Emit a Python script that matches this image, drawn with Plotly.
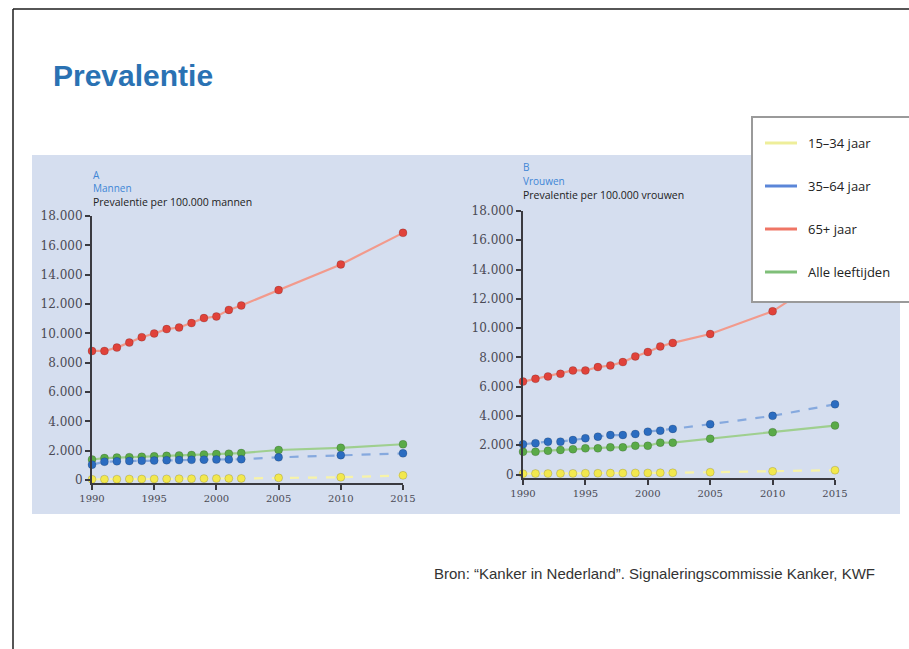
import plotly.graph_objects as go

W, H = 909, 649

years = [1990, 1991, 1992, 1993, 1994, 1995, 1996, 1997, 1998, 1999, 2000, 2001, 2002, 2005, 2010, 2015]

mannen_15_34 = [50, 60, 60, 70, 70, 80, 80, 90, 90, 100, 100, 110, 110, 150, 190, 320]
mannen_35_64 = [1050, 1250, 1280, 1300, 1320, 1330, 1350, 1360, 1380, 1390, 1400, 1410, 1420, 1550, 1700, 1820]
mannen_65 = [8800, 8800, 9030, 9370, 9740, 9990, 10290, 10400, 10700, 11040, 11150, 11600, 11900, 12950, 14700, 16850]
mannen_alle = [1400, 1500, 1530, 1560, 1590, 1620, 1650, 1680, 1710, 1740, 1770, 1800, 1840, 2050, 2200, 2440]

vrouwen_15_34 = [60, 70, 70, 80, 80, 90, 90, 100, 100, 110, 110, 120, 120, 160, 220, 300]
vrouwen_35_64 = [2070, 2140, 2250, 2250, 2360, 2480, 2590, 2700, 2700, 2770, 2930, 3000, 3120, 3440, 4010, 4800]
vrouwen_65 = [6350, 6540, 6700, 6880, 7110, 7110, 7340, 7450, 7680, 8070, 8370, 8750, 8990, 9600, 11150, 13900]
vrouwen_alle = [1560, 1560, 1630, 1680, 1730, 1790, 1790, 1860, 1860, 1970, 1970, 2180, 2180, 2450, 2890, 3350]

series_names = ["15–34 jaar", "35–64 jaar", "65+ jaar", "Alle leeftijden"]
y_ticks = list(range(0, 18001, 2000))
x_ticks = [1990, 1995, 2000, 2005, 2010, 2015]

line_colors = ["#f7f3a8", "#86a9de", "#f29a8c", "#9fcf8f"]
marker_colors = ["#f2e84e", "#2b6cc0", "#e0423a", "#5aaa48"]
dashes = ["dash", "dash", "solid", "solid"]
legend_line_colors = ["#eeee9a", "#5b86d8", "#ef7565", "#7fbf78"]


def px(x):
    return x / W


def py(y):
    return 1 - y / H


fig = go.Figure()

panels = [
    ("x", "y", [mannen_15_34, mannen_35_64, mannen_65, mannen_alle]),
    ("x2", "y2", [vrouwen_15_34, vrouwen_35_64, vrouwen_65, vrouwen_alle]),
]
order = [3, 1, 2, 0]
for xa, ya, data in panels:
    for i in order:
        fig.add_trace(go.Scatter(
            x=years, y=data[i], xaxis=xa, yaxis=ya, mode="lines+markers",
            name=series_names[i], showlegend=False, cliponaxis=False,
            line=dict(color=line_colors[i], width=2.2, dash=dashes[i]),
            marker=dict(size=8, color=marker_colors[i],
                        line=dict(width=0.6, color="rgba(0,0,0,0.25)")),
        ))

axis_common = dict(showgrid=False, zeroline=False, showline=True, automargin=False,
                   linecolor="#3a3a40", linewidth=2, ticks="outside",
                   tickcolor="#3a3a40", ticklen=5, tickwidth=1.5)

fig.update_layout(
    width=W, height=H, margin=dict(l=0, r=0, t=0, b=0, pad=0, autoexpand=False),
    paper_bgcolor="white", plot_bgcolor="rgba(0,0,0,0)",
    separators=",.", showlegend=False,
    xaxis=dict(domain=[px(92), px(403)], range=[1990, 2015], anchor="y",
               tickvals=x_ticks, tickfont=dict(family="DejaVu Serif", size=10, color="#4a4a55"),
               **axis_common),
    yaxis=dict(domain=[py(483), py(216)], range=[-200, 18000], anchor="x",
               tickvals=y_ticks, tickformat=",d",
               tickfont=dict(family="DejaVu Serif", size=12, color="#4a4a55"),
               **axis_common),
    xaxis2=dict(domain=[px(523), px(835)], range=[1990, 2015], anchor="y2",
                tickvals=x_ticks, tickfont=dict(family="DejaVu Serif", size=10, color="#4a4a55"),
                **axis_common),
    yaxis2=dict(domain=[py(477.5), py(211)], range=[-200, 18000], anchor="x2",
                tickvals=y_ticks, tickformat=",d",
                tickfont=dict(family="DejaVu Serif", size=12, color="#4a4a55"),
                **axis_common),
)

shapes = [
    # panel background
    dict(type="rect", xref="paper", yref="paper", x0=px(32), x1=px(900), y0=py(514), y1=py(155),
         fillcolor="#d5deef", line=dict(width=0), layer="below"),
    # slide frame
    dict(type="line", xref="paper", yref="paper", x0=px(13), x1=px(912), y0=py(9), y1=py(9),
         line=dict(color="#1e1e1e", width=1.5)),
    dict(type="line", xref="paper", yref="paper", x0=px(13), x1=px(13), y0=py(9), y1=py(652),
         line=dict(color="#1e1e1e", width=1.5)),
    # legend box
    dict(type="rect", xref="paper", yref="paper", x0=px(752), x1=px(915), y0=py(302), y1=py(117),
         fillcolor="white", line=dict(color="#9a9a9a", width=2), layer="above"),
]
annotations = []
leg_y = [143, 186, 229, 272]
for i, name in enumerate(series_names):
    shapes.append(dict(type="line", xref="paper", yref="paper", x0=px(765), x1=px(797),
                       y0=py(leg_y[i]), y1=py(leg_y[i]),
                       line=dict(color=legend_line_colors[i], width=3), layer="above"))
    annotations.append(dict(xref="paper", yref="paper", x=px(806), y=py(leg_y[i]), text=name,
                            showarrow=False, xanchor="left", yanchor="middle",
                            font=dict(family="Open Sans", size=13, color="#222")))

small_blue = dict(family="Open Sans", size=10, color="#3f86d6")
small_black = dict(family="Open Sans", size=10.5, color="#222")
annotations += [
    dict(xref="paper", yref="paper", x=px(51), y=py(75), text="<b>Prevalentie</b>", showarrow=False,
         xanchor="left", yanchor="middle",
         font=dict(family="Liberation Sans", size=30, color="#2a72b3")),
    dict(xref="paper", yref="paper", x=px(432), y=py(573),
         text="Bron: “Kanker in Nederland”. Signaleringscommissie Kanker, KWF", showarrow=False,
         xanchor="left", yanchor="middle",
         font=dict(family="Liberation Sans", size=15, color="#333")),
    dict(xref="paper", yref="paper", x=px(91), y=py(175), text="A", showarrow=False,
         xanchor="left", yanchor="middle", font=small_blue),
    dict(xref="paper", yref="paper", x=px(91), y=py(188), text="Mannen", showarrow=False,
         xanchor="left", yanchor="middle", font=small_blue),
    dict(xref="paper", yref="paper", x=px(91), y=py(202), text="Prevalentie per 100.000 mannen",
         showarrow=False, xanchor="left", yanchor="middle", font=small_black),
    dict(xref="paper", yref="paper", x=px(521), y=py(167), text="B", showarrow=False,
         xanchor="left", yanchor="middle", font=small_blue),
    dict(xref="paper", yref="paper", x=px(521), y=py(181), text="Vrouwen", showarrow=False,
         xanchor="left", yanchor="middle", font=small_blue),
    dict(xref="paper", yref="paper", x=px(521), y=py(195), text="Prevalentie per 100.000 vrouwen",
         showarrow=False, xanchor="left", yanchor="middle", font=small_black),
]

fig.update_layout(shapes=shapes, annotations=annotations)
fig.write_html("out.html")
